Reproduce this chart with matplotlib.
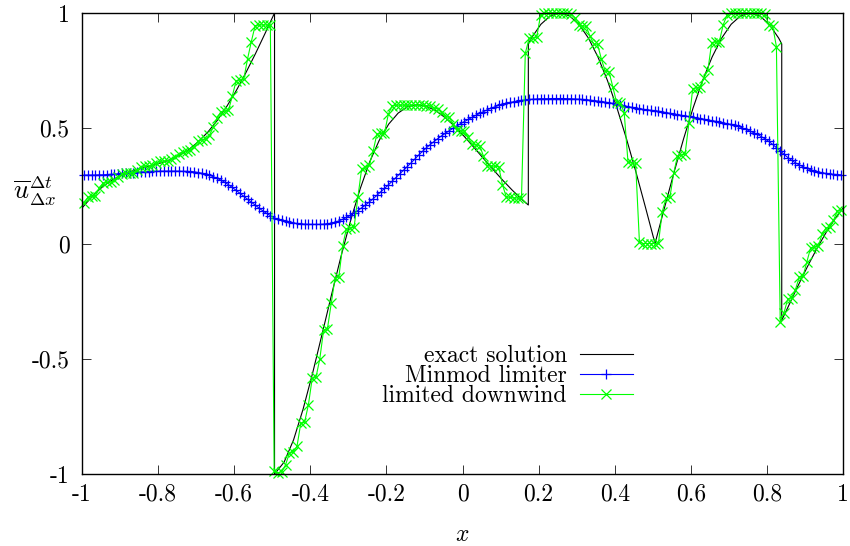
import numpy as np
import matplotlib
matplotlib.use("Agg")
import matplotlib.pyplot as plt

plt.rcParams['font.family'] = ['cmr10', 'DejaVu Serif']
plt.rcParams['mathtext.fontset'] = 'cm'
plt.rcParams['axes.unicode_minus'] = False

# exact solution (jumps given as repeated x)
ex_x = [-1.0, -0.969, -0.944, -0.919, -0.894, -0.869, -0.844, -0.819, -0.794, -0.769, -0.744,
        -0.719, -0.694, -0.669, -0.644, -0.619, -0.594, -0.569, -0.544, -0.519, -0.494,
        -0.494, -0.469, -0.444, -0.419, -0.394, -0.369, -0.344, -0.319, -0.294, -0.269, -0.244,
        -0.219, -0.194, -0.169, -0.144, -0.119, -0.094, -0.069, -0.044, -0.019, 0.006, 0.031,
        0.056, 0.081, 0.106, 0.131, 0.156, 0.173,
        0.173, 0.181, 0.206, 0.231, 0.256, 0.281, 0.306, 0.331, 0.356, 0.381, 0.406, 0.431,
        0.456, 0.481, 0.506, 0.531, 0.556, 0.581, 0.606, 0.631, 0.656, 0.681, 0.706, 0.731,
        0.756, 0.781, 0.806, 0.831, 0.839,
        0.839, 0.856, 0.881, 0.906, 0.931, 0.956, 0.981, 1.0]
ex_u = [0.154, 0.212, 0.249, 0.277, 0.298, 0.314, 0.326, 0.337, 0.349, 0.363, 0.382,
        0.408, 0.442, 0.484, 0.535, 0.596, 0.665, 0.742, 0.824, 0.911, 1.0,
        -1.0, -0.949, -0.852, -0.719, -0.563, -0.393, -0.221, -0.054, 0.100, 0.237, 0.354,
        0.447, 0.518, 0.566, 0.594, 0.602, 0.595, 0.575, 0.544, 0.506, 0.462, 0.415,
        0.367, 0.320, 0.274, 0.231, 0.191, 0.167,
        0.866, 0.891, 0.951, 0.988, 1.0, 0.988, 0.951, 0.891, 0.809, 0.707, 0.588, 0.454,
        0.309, 0.156, 0.0, 0.156, 0.309, 0.454, 0.588, 0.707, 0.809, 0.891, 0.951, 0.988,
        1.0, 0.988, 0.951, 0.891, 0.866,
        -0.333, -0.274, -0.186, -0.102, -0.023, 0.049, 0.112, 0.154]

# cell centres, 200 cells on [-1, 1]
xc = np.round(np.arange(-0.995, 1.0, 0.01), 3)

minmod = [
    .297, .297, .297, .297, .298, .298, .299, .300, .301, .302,
    .304, .305, .307, .308, .309, .310, .311, .312, .313, .313,
    .314, .314, .314, .314, .314, .314, .313, .313, .312, .311,
    .308, .305, .301, .296, .290, .283, .275, .266, .255, .243,
    .231, .218, .205, .192, .179, .167, .154, .142, .131, .121,
    .112, .105, .100, .096, .092, .089, .087, .085, .084, .083,
    .083, .083, .083, .084, .086, .088, .092, .098, .105, .113,
    .122, .132, .143, .155, .167, .180, .194, .209, .224, .239,
    .254, .270, .286, .302, .318, .334, .350, .367, .384, .400,
    .415, .429, .442, .455, .467, .478, .489, .500, .510, .520,
    .529, .538, .547, .556, .564, .572, .580, .587, .593, .599,
    .604, .608, .612, .615, .618, .621, .623, .625, .626, .627,
    .628, .628, .628, .629, .629, .629, .629, .628, .628, .627,
    .626, .625, .624, .622, .620, .618, .616, .613, .611, .608,
    .605, .601, .598, .594, .591, .588, .585, .582, .580, .578,
    .576, .574, .571, .568, .565, .562, .559, .556, .553, .551,
    .548, .545, .542, .539, .536, .533, .530, .527, .524, .520,
    .517, .513, .508, .502, .495, .488, .481, .473, .464, .454,
    .443, .430, .416, .402, .387, .373, .361, .350, .341, .333,
    .326, .320, .315, .311, .307, .304, .302, .300, .299, .298]

downwind = [
    0.175, 0.200, 0.205, 0.205, 0.240, 0.262, 0.265, 0.268, 0.275, 0.290,
    0.300, 0.305, 0.307, 0.308, 0.320, 0.333, 0.336, 0.337, 0.340, 0.350,
    0.356, 0.358, 0.360, 0.365, 0.375, 0.390, 0.397, 0.400, 0.405, 0.420,
    0.445, 0.450, 0.452, 0.470, 0.505, 0.545, 0.572, 0.575, 0.578, 0.640,
    0.705, 0.710, 0.712, 0.800, 0.876, 0.945, 0.948, 0.948, 0.948, 0.948,
    -0.985, -0.995, -0.990, -0.960, -0.910, -0.905, -0.880, -0.780, -0.775, -0.700,
    -0.585, -0.580, -0.500, -0.375, -0.370, -0.260, -0.150, -0.145, -0.010, 0.065,
    0.068, 0.070, 0.200, 0.325, 0.330, 0.340, 0.400, 0.475, 0.478, 0.480,
    0.560, 0.598, 0.600, 0.600, 0.600, 0.600, 0.600, 0.600, 0.600, 0.600,
    0.598, 0.598, 0.588, 0.585, 0.570, 0.550, 0.548, 0.520, 0.492, 0.490,
    0.488, 0.460, 0.430, 0.428, 0.425, 0.380, 0.338, 0.336, 0.335, 0.334,
    0.255, 0.202, 0.200, 0.198, 0.197, 0.196, 0.825, 0.890, 0.892, 0.895,
    0.990, 0.998, 1.000, 1.000, 1.000, 1.000, 1.000, 0.998, 0.995, 0.980,
    0.946, 0.944, 0.942, 0.900, 0.866, 0.864, 0.800, 0.748, 0.745, 0.680,
    0.612, 0.610, 0.566, 0.352, 0.350, 0.348, 0.006, 0.000, 0.000, 0.000,
    0.000, 0.002, 0.138, 0.197, 0.200, 0.305, 0.380, 0.384, 0.388, 0.522,
    0.672, 0.675, 0.678, 0.720, 0.753, 0.872, 0.874, 0.876, 0.948, 0.990,
    1.000, 1.000, 1.000, 1.000, 1.000, 1.000, 1.000, 1.000, 1.000, 0.995,
    0.948, 0.945, 0.854, -0.339, -0.300, -0.240, -0.236, -0.200, -0.145, -0.142,
    -0.080, -0.018, -0.015, -0.012, 0.040, 0.067, 0.070, 0.100, 0.142, 0.145]

xticks = [-1, -0.8, -0.6, -0.4, -0.2, 0, 0.2, 0.4, 0.6, 0.8, 1]
xtick_labels = ["-1", "-0.8", "-0.6", "-0.4", "-0.2", "0", "0.2", "0.4", "0.6", "0.8", "1"]
yticks = [-1, -0.5, 0, 0.5, 1]
ytick_labels = ["-1", "-0.5", "0", "0.5", "1"]

fig = plt.figure(figsize=(8.5, 5.46), dpi=100)
ax = fig.add_axes([82/850, 1-474/546, 761/850, 461/546])

ax.plot(ex_x, ex_u, color="black", lw=0.8, label="exact solution")
ax.plot(xc, minmod, color="#0000ff", lw=0.8, marker="+", ms=7.5, mew=0.9,
        label="Minmod limiter", clip_on=False)
ax.plot(xc, downwind, color="#00ff00", lw=0.8, marker="x", ms=7.5, mew=0.9,
        label="limited downwind", clip_on=False)

ax.set_xlim(-1, 1)
ax.set_ylim(-1, 1)
ax.set_xticks(xticks)
ax.set_xticklabels(xtick_labels)
ax.set_yticks(yticks)
ax.set_yticklabels(ytick_labels)
ax.tick_params(direction="in", length=6.5, width=0.7, top=True, right=True,
               labelsize=17, color="#333333")
ax.tick_params(axis="x", pad=7)
ax.tick_params(axis="y", pad=9)
for sp in ax.spines.values():
    sp.set_linewidth(1.0)

ax.text(-0.062, 0.615, r"$\overline{u}^{\Delta t}_{\Delta x}$", transform=ax.transAxes,
        ha="center", va="center", fontsize=19)
fig.text(462/850, 1-535/546, r"$x$", ha="center", va="center", fontsize=17)

ax.legend(loc="center right", bbox_to_anchor=(0.724, 0.2126), frameon=False,
          markerfirst=False, fontsize=17, handlelength=2.25, handletextpad=0.55,
          labelspacing=-0.08, borderpad=0, borderaxespad=0)

fig.savefig("out.png", dpi=100)
